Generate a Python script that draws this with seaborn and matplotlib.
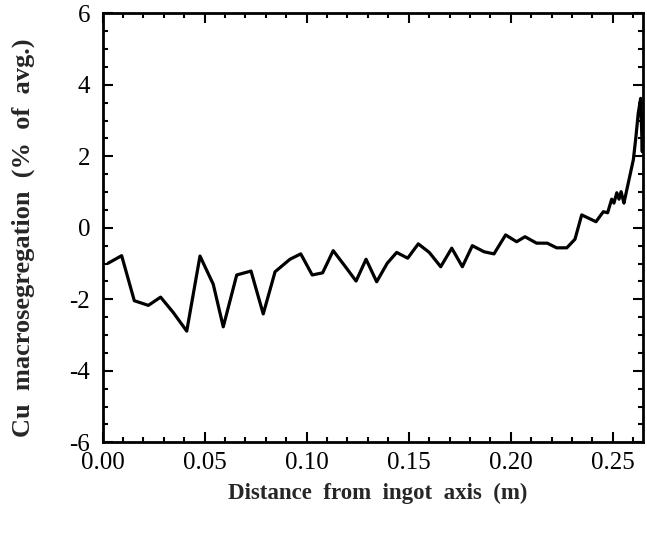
import matplotlib
matplotlib.use("Agg")
import matplotlib.pyplot as plt
import pandas as pd
import seaborn as sns
from matplotlib.ticker import MultipleLocator, FormatStrFormatter

# distance from ingot axis (m) and Cu macrosegregation (% of avg.)
distance = [0.0027, 0.0093, 0.0155, 0.0224, 0.0284, 0.0346, 0.0412, 0.0477, 0.0542, 0.0591,
            0.0657, 0.0727, 0.0787, 0.0845, 0.0918, 0.0971, 0.1027, 0.1078, 0.1130, 0.1186,
            0.1242, 0.1291, 0.1343, 0.1395, 0.1441, 0.1495, 0.1547, 0.1601, 0.1657, 0.1711,
            0.1763, 0.1812, 0.1869, 0.1918, 0.1975, 0.2029, 0.2070, 0.2127, 0.2179, 0.2225,
            0.2275, 0.2315, 0.2348, 0.2418, 0.2454, 0.2475, 0.2495, 0.2506, 0.2520, 0.2531,
            0.2541, 0.2549, 0.2555, 0.2569, 0.2585, 0.2601, 0.2613, 0.2625, 0.2637, 0.2645,
            0.2649, 0.2650]
cu_seg = [-0.99, -0.78, -2.04, -2.17, -1.94, -2.37, -2.89, -0.79, -1.58, -2.77,
          -1.32, -1.21, -2.41, -1.23, -0.88, -0.73, -1.32, -1.26, -0.64, -1.06,
          -1.49, -0.88, -1.51, -0.99, -0.69, -0.85, -0.45, -0.69, -1.09, -0.57,
          -1.09, -0.50, -0.67, -0.73, -0.20, -0.39, -0.25, -0.43, -0.43, -0.56,
          -0.56, -0.32, 0.36, 0.17, 0.45, 0.42, 0.80, 0.69, 0.98, 0.80,
          1.01, 0.83, 0.69, 1.06, 1.48, 1.90, 2.50, 3.20, 3.62, 2.13,
          3.16, 2.12]

x_ticks = [0.00, 0.05, 0.10, 0.15, 0.20, 0.25]
y_ticks = [-6, -4, -2, 0, 2, 4, 6]

df = pd.DataFrame({"distance": distance, "cu": cu_seg})

sns.set_style("ticks")
plt.rcParams["font.family"] = ["Liberation Serif", "DejaVu Serif"]
plt.rcParams["axes.unicode_minus"] = False

fig, ax = plt.subplots(figsize=(6.47, 5.38), dpi=100)
fig.subplots_adjust(left=0.1587, right=0.9943, top=0.9753, bottom=0.1779)

sns.lineplot(data=df, x="distance", y="cu", ax=ax, color="black", lw=2.3,
             sort=False, estimator=None)

ax.set_xlim(0, 0.265)
ax.set_ylim(-6, 6)
ax.set_xticks(x_ticks)
ax.set_yticks(y_ticks)
ax.xaxis.set_major_formatter(FormatStrFormatter("%.2f"))
ax.xaxis.set_minor_locator(MultipleLocator(0.01))
ax.yaxis.set_minor_locator(MultipleLocator(0.5))

ax.tick_params(which="both", direction="in", top=True, right=True, width=1.5,
               color="black", labelsize=18, labelcolor="black")
ax.tick_params(which="major", length=7)
ax.tick_params(which="minor", length=3.5)
ax.tick_params(axis="y", which="major", pad=9)
ax.tick_params(axis="x", which="major", pad=7)

for sp in ax.spines.values():
    sp.set_linewidth(2)
    sp.set_color("black")

ax.set_xlabel("Distance  from  ingot  axis  (m)", fontsize=16.5, fontweight="bold")
ax.set_ylabel("Cu  macrosegregation  (%  of  avg.)", fontsize=19, fontweight="bold")
ax.xaxis.set_label_coords(0.509, -0.095)
ax.yaxis.set_label_coords(-0.125, 0.477)

fig.savefig("out.png", dpi=100)
